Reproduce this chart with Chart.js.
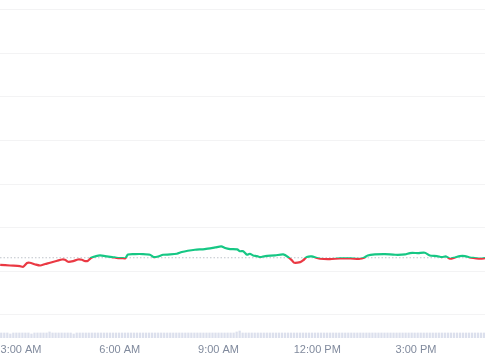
<!DOCTYPE html>
<html>
<head>
<meta charset="utf-8">
<script src="https://cdn.jsdelivr.net/npm/chart.js@4/dist/chart.umd.min.js"></script>
<style>
  html, body { margin: 0; padding: 0; background: #ffffff; }
  #wrap { width: 485px; height: 360px; }
</style>
</head>
<body>
<div id="wrap"><canvas id="c" width="485" height="360"></canvas></div>
<script>
// time in minutes since midnight
const times = [142,160,178,184,191,196,206,215,224,233,246,255,260,266,275,284,291,297,302,308,317,324,333,346,357,364,370,375,388,402,415,422,430,439,452,464,473,484,497,515,534,545,552,561,574,579,585,592,597,603,610,616,625,643,658,667,674,678,689,694,701,710,718,725,743,761,780,798,805,812,825,843,862,880,889,904,916,925,938,947,955,962,971,980,989,998,1007,1017,1026];
const prices = [1.149,1.133,1.120,1.103,1.189,1.195,1.156,1.133,1.166,1.195,1.241,1.271,1.264,1.218,1.234,1.271,1.264,1.234,1.241,1.310,1.349,1.363,1.349,1.326,1.303,1.303,1.299,1.386,1.395,1.395,1.379,1.326,1.340,1.379,1.386,1.402,1.441,1.471,1.494,1.510,1.547,1.570,1.533,1.510,1.501,1.460,1.460,1.379,1.402,1.363,1.349,1.326,1.349,1.363,1.386,1.326,1.248,1.195,1.211,1.248,1.326,1.340,1.310,1.287,1.280,1.294,1.294,1.287,1.310,1.363,1.386,1.395,1.379,1.386,1.418,1.418,1.425,1.363,1.349,1.326,1.340,1.287,1.317,1.349,1.349,1.317,1.303,1.287,1.303];
const baseline = 1.310;
const tickTimes = [180, 360, 540, 720, 900];
const gridValues = [0, 1, 2, 3, 4, 5, 6, 7];
const volumeStart = 144;
const volumeStep = 5.5;
const volumes = [5,5,5,4,5,5,5,5,5,5,4,5,5,5,5,5,6,5,5,5,5,5,5,5,4,5,5,5,5,5,5,5,5,5,5,5,5,5,5,5,5,5,5,5,5,5,5,5,5,5,5,5,5,5,5,5,5,5,5,5,5,5,5,5,5,5,5,5,5,5,5,5,5,5,5,5,5,5,6,7,5,5,5,5,5,5,5,5,5,5,5,5,5,5,5,5,5,5,5,5,5,5,5,5,5,5,5,5,5,5,5,5,5,5,5,5,5,5,5,5,5,5,5,5,5,5,5,5,5,5,5,5,5,5,5,5,5,5,5,5,5,5,5,5,5,5,5,5,5,5,5,5,5,5,5,5,5,5,5,5,5,5];

const GREEN = '#16c784';
const RED = '#ea3943';

function fmtTime(m) {
  const h = Math.floor(m / 60);
  const mm = Math.round(m % 60);
  const ap = h >= 12 ? 'PM' : 'AM';
  let h12 = h % 12; if (h12 === 0) h12 = 12;
  return h12 + ':' + String(mm).padStart(2, '0') + ' ' + ap;
}

function lineColor(ctx) {
  const chart = ctx.chart;
  const area = chart.chartArea;
  if (!area) return RED;
  const py = chart.scales.y.getPixelForValue(baseline);
  let f = (py - area.top) / (area.bottom - area.top);
  f = Math.min(1, Math.max(0, f));
  const g = chart.ctx.createLinearGradient(0, area.top, 0, area.bottom);
  g.addColorStop(0, GREEN);
  g.addColorStop(f, GREEN);
  g.addColorStop(f, RED);
  g.addColorStop(1, RED);
  return g;
}

const priceData = times.map((t, i) => ({ x: t, y: prices[i] }));
const volData = volumes.map((v, i) => ({ x: volumeStart + i * volumeStep, y: v }));

new Chart(document.getElementById('c'), {
  data: {
    datasets: [
      {
        type: 'line',
        data: priceData,
        borderColor: lineColor,
        borderWidth: 2.2,
        pointRadius: 0,
        tension: 0.25,
        yAxisID: 'y',
        order: 1
      },
      {
        type: 'line',
        data: [{ x: 141.7, y: baseline }, { x: 1025.7, y: baseline }],
        borderColor: '#bfc3ca',
        borderWidth: 1,
        borderDash: [1.5, 2],
        pointRadius: 0,
        yAxisID: 'y',
        order: 2
      },
      {
        type: 'bar',
        data: volData,
        backgroundColor: 'rgba(205,211,230,0.7)',
        barThickness: 1.6,
        yAxisID: 'yv',
        order: 3
      }
    ]
  },
  options: {
    responsive: false,
    animation: false,
    devicePixelRatio: 1,
    layout: { padding: { left: 0, right: 0, top: 0, bottom: -1.2 } },
    plugins: { legend: { display: false }, tooltip: { enabled: false } },
    scales: {
      x: {
        type: 'linear',
        offset: false,
        min: 141.7,
        max: 1025.7,
        grid: { display: false, drawTicks: false, offset: false },
        border: { display: false },
        afterBuildTicks: (axis) => { axis.ticks = tickTimes.map(v => ({ value: v })); },
        afterFit: (axis) => { axis.paddingLeft = 0; axis.paddingRight = 0; },
        ticks: {
          autoSkip: false,
          maxRotation: 0,
          padding: 5,
          color: '#808a9d',
          font: { family: '"Liberation Sans", Arial, sans-serif', size: 11 },
          callback: (v) => fmtTime(v)
        }
      },
      y: {
        type: 'linear',
        min: -0.529,
        max: 7.218,
        afterBuildTicks: (axis) => { axis.ticks = gridValues.map(v => ({ value: v })); },
        grid: { color: '#f3f3f4', lineWidth: 1, drawTicks: false },
        border: { display: false },
        ticks: { display: false }
      },
      yv: {
        type: 'linear',
        display: false,
        min: 0,
        max: 337
      }
    }
  }
});
</script>
</body>
</html>
